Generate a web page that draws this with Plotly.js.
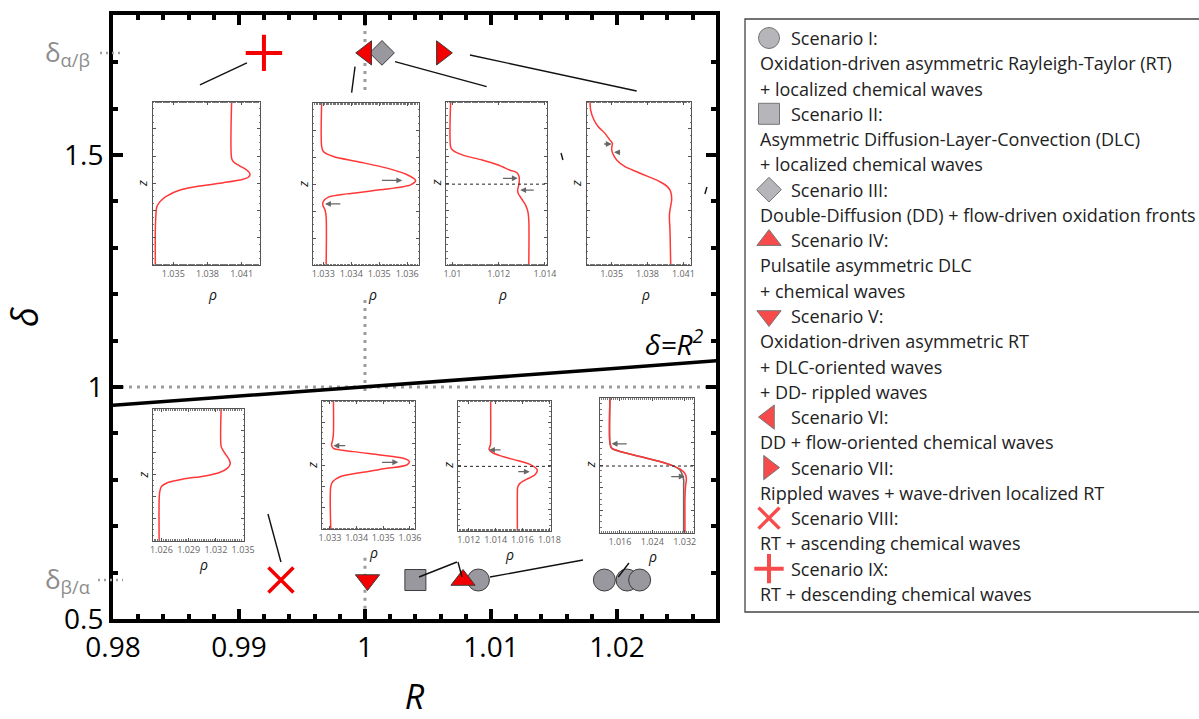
<!DOCTYPE html>
<html><head><meta charset="utf-8">
<script src="https://cdn.plot.ly/plotly-3.0.1.min.js"></script>
<style>html,body{margin:0;padding:0;background:#fff;}#chart{width:1199px;height:719px;}</style>
</head><body><div id="chart"></div>
<script>
// ================= DATA =================
const xTickVals = [0.98, 0.99, 1, 1.01, 1.02];
const xTickText = ['0.98', '0.99', '1', '1.01', '1.02'];
const yTickVals = [0.5, 1, 1.5];
const yTickText = ['0.5', '1', '1.5'];

const deltaAlphaBeta = 1.72;   // δα/β
const deltaBetaAlpha = 0.584;  // δβ/α

// scenario markers (R, δ)
const scenI_R = [1.0090, 1.0190, 1.0208, 1.0218];
const scenI_D = [0.584, 0.584, 0.584, 0.584];
const scenII_R = [1.0040];   const scenII_D = [0.584];
const scenIII_R = [1.00135]; const scenIII_D = [1.72];
const scenIV_R = [1.00778];  const scenIV_D = [0.584];
const scenV_R = [1.0002];    const scenV_D = [0.584];
const scenVI_R = [1.0001];   const scenVI_D = [1.72];
const scenVII_R = [1.0061];  const scenVII_D = [1.72];
const scenVIII_R = [0.99333]; const scenVIII_D = [0.584];
const scenIX_R = [0.99198];  const scenIX_D = [1.72];

// delta = R^2 curve
const curveR = [0.98, 0.99, 1.0, 1.01, 1.02, 1.03];
const curveD = [0.9604, 0.9801, 1.0, 1.0201, 1.0404, 1.0609];

// legend texts
const scenarioTitles = ['Scenario I:', 'Scenario II:', 'Scenario III:', 'Scenario IV:', 'Scenario V:',
  'Scenario VI:', 'Scenario VII:', 'Scenario VIII:', 'Scenario IX:'];
const scenarioDesc = [
  ['Oxidation-driven asymmetric Rayleigh-Taylor (RT)', '+ localized chemical waves'],
  ['Asymmetric Diffusion-Layer-Convection (DLC)', '+ localized chemical waves'],
  ['Double-Diffusion (DD) + flow-driven oxidation fronts'],
  ['Pulsatile asymmetric DLC', '+ chemical waves'],
  ['Oxidation-driven asymmetric RT', '+ DLC-oriented waves', '+ DD- rippled waves'],
  ['DD + flow-oriented chemical waves'],
  ['Rippled waves + wave-driven localized RT'],
  ['RT + ascending chemical waves'],
  ['RT + descending chemical waves']
];

// inset density profiles (rho, normalized z)
const in1Rho = [1.04012,1.04012,1.04027,1.04085,1.04144,1.04173,1.04159,1.04085,1.03939,1.03734,1.03559,1.03441,1.03383,1.03354,1.03348,1.03342,1.03342];
const in1Z   = [1,0.653,0.633,0.606,0.582,0.557,0.537,0.520,0.504,0.484,0.459,0.422,0.388,0.353,0.316,0.214,0];
const in1Ticks = [1.035, 1.038, 1.041];

const in2Rho = [1.03294,1.03294,1.033,1.03336,1.0342,1.03528,1.036,1.0363,1.03612,1.03504,1.03384,1.03318,1.033,1.03298,1.03306,1.0331,1.0331];
const in2Z   = [1,0.732,0.701,0.670,0.639,0.598,0.557,0.522,0.495,0.464,0.439,0.419,0.392,0.371,0.340,0.299,0];
const in2Ticks = [1.033, 1.034, 1.035, 1.036];

const in3Rho = [1.00992,1.00992,1.01,1.01045,1.01128,1.01198,1.01247,1.01279,1.01288,1.01288,1.01282,1.01284,1.01302,1.01316,1.01326,1.0133,1.0133];
const in3Z   = [1,0.724,0.704,0.673,0.643,0.612,0.582,0.565,0.541,0.5,0.459,0.439,0.398,0.367,0.327,0.276,0];
const in3Ticks = [1.01, 1.012, 1.014];

const in4Rho = [1.03319,1.03324,1.03352,1.03388,1.03444,1.03486,1.03506,1.035,1.03508,1.03542,1.03612,1.03709,1.03807,1.03905,1.03966,1.03994,1.04002,1.03988,1.03983,1.03988,1.03994];
const in4Z   = [1,0.949,0.888,0.847,0.806,0.765,0.745,0.714,0.684,0.643,0.602,0.571,0.541,0.510,0.480,0.449,0.398,0.337,0.296,0.214,0];
const in4Ticks = [1.035, 1.038, 1.041];

const in5Rho = [1.03258,1.03258,1.03276,1.03311,1.03347,1.03358,1.03329,1.0324,1.0308,1.02831,1.02671,1.026,1.02582,1.02575,1.02575];
const in5Z   = [1,0.716,0.690,0.652,0.614,0.584,0.551,0.518,0.492,0.467,0.442,0.411,0.373,0.310,0];
const in5Ticks = [1.026, 1.029, 1.032, 1.035];

const in6Rho = [1.03313,1.03313,1.0331,1.03306,1.03313,1.03388,1.03488,1.03575,1.03598,1.03588,1.03513,1.03413,1.03338,1.0331,1.03303,1.03303];
const in6Z   = [1,0.746,0.694,0.655,0.630,0.604,0.578,0.552,0.526,0.5,0.474,0.440,0.409,0.370,0.332,0];
const in6Ticks = [1.033, 1.034, 1.035, 1.036];

const in7Rho = [1.01363,1.01363,1.01361,1.01351,1.01375,1.0146,1.01569,1.01666,1.0171,1.01691,1.0163,1.01581,1.01564,1.01562,1.01562];
const in7Z   = [1,0.697,0.659,0.626,0.6,0.569,0.538,0.505,0.467,0.428,0.395,0.364,0.333,0.287,0];
const in7Ticks = [1.012, 1.014, 1.016, 1.018];

const in8Rho = [1.01354,1.01354,1.01395,1.016,1.02092,1.02585,1.02913,1.03118,1.03225,1.03241,1.03225,1.03208,1.03208];
const in8RhoB = [1.01354,1.01354,1.01395,1.016,1.02092,1.02585,1.02913,1.03077,1.03143,1.03175,1.03175,1.03175,1.03175];
const in8Z   = [1,0.665,0.628,0.603,0.566,0.529,0.496,0.467,0.429,0.392,0.355,0.268,0];
const in8Ticks = [1.016, 1.024, 1.032];

// arrows inside insets: [tailRho, tailZ, headRho, headZ]
const in2Arrows = [[1.03504,0.522,1.03582,0.522],[1.03366,0.377,1.03306,0.377]];
const in3Arrows = [[1.01212,0.531,1.01282,0.531],[1.01358,0.459,1.01293,0.459]];
const in4Arrows = [[1.03425,0.741,1.035,0.741],[1.03584,0.690,1.0352,0.690]];
const in6Arrows = [[1.03363,0.650,1.03313,0.650],[1.0349,0.521,1.03556,0.521]];
const in7Arrows = [[1.01448,0.621,1.01351,0.621],[1.01557,0.454,1.01654,0.454]];
const in8Arrows = [[1.01805,0.660,1.01395,0.660],[1.02831,0.417,1.032,0.417]];

// ================= LAYOUT CONSTANTS =================
const W = 1199, H = 719;
const pxX = v => v / W;
const pxY = v => (H - v) / H;
const main = {l: 113, t: 15, r: 716, b: 619};
const xRange = [0.98, 1.02786];
const yRange = [0.5, 1.8017];

const GRAY = 'rgb(152,152,158)', EDGE = 'rgb(60,60,60)', RED = 'rgb(245,0,0)';

const scenStyles = [
  {symbol: 'circle', size: 22, color: GRAY, lc: EDGE, lw: 1},
  {symbol: 'square', size: 21, color: GRAY, lc: EDGE, lw: 1},
  {symbol: 'diamond', size: 19, color: GRAY, lc: EDGE, lw: 1},
  {symbol: 'triangle-up', size: 21, color: RED, lc: EDGE, lw: 1},
  {symbol: 'triangle-down', size: 21, color: RED, lc: EDGE, lw: 1},
  {symbol: 'triangle-left', size: 21, color: RED, lc: EDGE, lw: 1},
  {symbol: 'triangle-right', size: 21, color: RED, lc: EDGE, lw: 1},
  {symbol: 'x-thin', size: 25, color: RED, lc: RED, lw: 3.5},
  {symbol: 'cross-thin', size: 26, color: RED, lc: RED, lw: 4}
];
const scenData = [[scenI_R, scenI_D], [scenII_R, scenII_D], [scenIII_R, scenIII_D], [scenIV_R, scenIV_D],
  [scenV_R, scenV_D], [scenVI_R, scenVI_D], [scenVII_R, scenVII_D], [scenVIII_R, scenVIII_D], [scenIX_R, scenIX_D]];

// inset boxes in pixels [left, top, right, bottom], x ranges, offset of the ρ label below the box
const insets = [
  {box: [152.7, 101.7, 260, 265], range: [1.03319, 1.04261], rho: in1Rho, z: in1Z, ticks: in1Ticks, arrows: [], dotted: false, rhoShift: -29},
  {box: [312.7, 103, 419, 265], range: [1.03262, 1.03642], rho: in2Rho, z: in2Z, ticks: in2Ticks, arrows: in2Arrows, dotted: false, rhoShift: -29},
  {box: [446, 101.7, 547.3, 265], range: [1.00972, 1.0141], rho: in3Rho, z: in3Z, ticks: in3Ticks, arrows: in3Arrows, dotted: true, rhoShift: -29},
  {box: [586.7, 101.7, 691, 265], range: [1.03291, 1.04164], rho: in4Rho, z: in4Z, ticks: in4Ticks, arrows: in4Arrows, dotted: false, rhoShift: -29},
  {box: [152.7, 409, 244, 540.7], range: [1.02504, 1.0351], rho: in5Rho, z: in5Z, ticks: in5Ticks, arrows: [], dotted: false, rhoShift: -24},
  {box: [321.7, 400.7, 415, 529.3], range: [1.03269, 1.03619], rho: in6Rho, z: in6Z, ticks: in6Ticks, arrows: in6Arrows, dotted: false, rhoShift: -23},
  {box: [458, 400.7, 550.7, 530.7], range: [1.0112, 1.0181], rho: in7Rho, z: in7Z, ticks: in7Ticks, arrows: in7Arrows, dotted: true, rhoShift: -24},
  {box: [600, 398, 694, 532.7], range: [1.01108, 1.0343], rho: in8Rho, z: in8Z, ticks: in8Ticks, arrows: in8Arrows, dotted: true, extra: in8RhoB, rhoShift: -24}
];

// connector lines (R, δ) pairs, in main-axis units
const connectors = [
  [0.99063, 1.6983, 0.9869, 1.6509],
  [0.99921, 1.6903, 0.99894, 1.6343],
  [1.00238, 1.7011, 1.00966, 1.6472],
  [1.00833, 1.7155, 1.02156, 1.6379],
  [0.9923, 0.7263, 0.99333, 0.6228],
  [1.00429, 0.5905, 1.0073, 0.6228],
  [1.0077, 0.5905, 1.00738, 0.6228],
  [1.00992, 0.5905, 1.0173, 0.6272],
  [1.0201, 0.5905, 1.02095, 0.6207],
  [1.01556, 1.5043, 1.01571, 1.4892],
  [1.02698, 1.4159, 1.02714, 1.431]
];
// visible segments of the R = 1 reference line (hidden behind insets)
const vSegR = [1, 1, null, 1, 1, null, 1, 1];
const vSegD = [1.8017, 1.6358, null, 1.1875, 0.9828, null, 0.632, 0.5];

// ================= BUILD =================
const traces = [];
const FONT = 'Open Sans, Noto Sans, sans-serif';

traces.push({x: [xRange[0], xRange[1]], y: [1, 1], mode: 'lines', xaxis: 'x', yaxis: 'y',
  line: {color: '#9b9b9b', width: 3, dash: '3px,5px'}, showlegend: false, hoverinfo: 'skip'});
traces.push({x: vSegR, y: vSegD, mode: 'lines', xaxis: 'x', yaxis: 'y', connectgaps: false,
  line: {color: '#9b9b9b', width: 3, dash: '3px,5px'}, showlegend: false, hoverinfo: 'skip'});
traces.push({x: curveR, y: curveD, mode: 'lines', xaxis: 'x', yaxis: 'y', line: {color: '#000', width: 3.5},
  showlegend: false, hoverinfo: 'skip'});

scenData.forEach((d, i) => {
  const s = scenStyles[i];
  traces.push({x: d[0], y: d[1], mode: 'markers', xaxis: 'x', yaxis: 'y', name: scenarioTitles[i], showlegend: false,
    marker: {symbol: s.symbol, size: s.size, color: s.color, line: {color: s.lc, width: s.lw}}});
});

const layout = {
  width: W, height: H, margin: {l: 0, r: 0, t: 0, b: 0}, paper_bgcolor: '#fff', plot_bgcolor: '#fff',
  showlegend: false, font: {family: FONT, color: '#000'},
  xaxis: {domain: [pxX(main.l), pxX(main.r)], range: xRange, showgrid: false, zeroline: false,
    showline: true, linecolor: '#000', linewidth: 4, mirror: 'allticks', ticks: 'inside', ticklen: 10, tickwidth: 4,
    tickcolor: '#000', tickmode: 'array', tickvals: xTickVals, ticktext: xTickText,
    tickfont: {size: 28, family: FONT, color: '#000'},
    minor: {tickmode: 'linear', tick0: 0.98, dtick: 0.002, ticks: 'inside', ticklen: 5, tickwidth: 4, tickcolor: '#000', showgrid: false},
    title: {text: '<i>R</i>', font: {size: 34, family: FONT}, standoff: 26}},
  yaxis: {domain: [pxY(main.b), pxY(main.t)], range: yRange, showgrid: false, zeroline: false,
    showline: true, linecolor: '#000', linewidth: 4, mirror: 'allticks', ticks: 'inside', ticklen: 10, tickwidth: 4,
    tickcolor: '#000', tickmode: 'array', tickvals: yTickVals, ticktext: yTickText,
    tickfont: {size: 28, family: FONT, color: '#000'},
    minor: {tickmode: 'linear', tick0: 0.5, dtick: 0.1, ticks: 'inside', ticklen: 5, tickwidth: 4, tickcolor: '#000', showgrid: false},
    title: {text: '<i>δ</i>', font: {size: 36, family: FONT}, standoff: 30}},
  annotations: [], shapes: []
};

// insets
insets.forEach((ins, k) => {
  const n = k + 2;
  const xa = 'xaxis' + n, ya = 'yaxis' + n;
  const xr = 'x' + n, yr = 'y' + n;
  layout[xa] = {domain: [pxX(ins.box[0]), pxX(ins.box[2])], range: ins.range, anchor: yr,
    showgrid: false, zeroline: false, showline: true, linecolor: '#555', linewidth: 1, mirror: 'allticks',
    ticks: 'inside', ticklen: 3, tickwidth: 1, tickcolor: '#555', tickmode: 'array', tickvals: ins.ticks,
    ticktext: ins.ticks.map(v => String(v)), tickfont: {size: 9, color: '#666', family: FONT},
    minor: {ticks: 'inside', ticklen: 1.5, tickwidth: 1, tickcolor: '#777', nticks: 20}};
  layout[ya] = {domain: [pxY(ins.box[3]), pxY(ins.box[1])], range: [0, 1], anchor: xr,
    showgrid: false, zeroline: false, showline: true, linecolor: '#555', linewidth: 1, mirror: 'allticks',
    ticks: 'inside', ticklen: 3, tickwidth: 1, tickcolor: '#555', tickmode: 'linear', tick0: 0, dtick: 1 / 6,
    showticklabels: false, minor: {ticks: 'inside', ticklen: 1.5, tickwidth: 1, tickcolor: '#777', dtick: 1 / 24}};
  if (ins.extra) {
    traces.push({x: ins.extra, y: ins.z, mode: 'lines', xaxis: xr, yaxis: yr, showlegend: false,
      line: {color: 'rgb(115,100,100)', width: 1.6, shape: 'spline', smoothing: 0.8}, hoverinfo: 'skip'});
  }
  traces.push({x: ins.rho, y: ins.z, mode: 'lines', xaxis: xr, yaxis: yr, showlegend: false,
    line: {color: 'rgb(255,55,55)', width: 1.5, shape: 'spline', smoothing: 0.8}, hoverinfo: 'skip'});
  if (ins.dotted) {
    layout.shapes.push({type: 'line', xref: xr + ' domain', yref: yr, x0: 0, x1: 1, y0: 0.495, y1: 0.495,
      line: {color: '#222', width: 1, dash: 'dot'}});
  }
  ins.arrows.forEach(a => {
    layout.annotations.push({xref: xr, yref: yr, axref: xr, ayref: yr, x: a[2], y: a[3], ax: a[0], ay: a[1],
      text: '', showarrow: true, arrowhead: 2, arrowsize: 0.9, arrowwidth: 1.3, arrowcolor: '#666'});
  });
  layout.annotations.push({xref: xr + ' domain', yref: yr + ' domain', x: 0.56, y: 0, yshift: ins.rhoShift,
    xanchor: 'center', yanchor: 'middle', showarrow: false, text: '<i>ρ</i>', font: {size: 14, color: '#111', family: FONT}});
  layout.annotations.push({xref: xr + ' domain', yref: yr + ' domain', x: 0, y: 0.5, xshift: -10,
    xanchor: 'center', yanchor: 'middle', showarrow: false, textangle: -90, text: '<i>z</i>', font: {size: 13, color: '#111', family: FONT}});
});

// connectors
connectors.forEach(c => layout.shapes.push({type: 'line', xref: 'x', yref: 'y', x0: c[0], y0: c[1], x1: c[2], y1: c[3],
  line: {color: '#111', width: 1.4}}));

// δ labels with dotted stubs
layout.shapes.push({type: 'line', xref: 'paper', yref: 'y', x0: pxX(100), x1: pxX(123), y0: deltaAlphaBeta, y1: deltaAlphaBeta,
  line: {color: '#a0a0a0', width: 2.5, dash: '2px,4px'}});
layout.shapes.push({type: 'line', xref: 'paper', yref: 'y', x0: pxX(98), x1: pxX(123), y0: deltaBetaAlpha, y1: deltaBetaAlpha,
  line: {color: '#a0a0a0', width: 2.5, dash: '2px,4px'}});
layout.annotations.push({xref: 'paper', yref: 'y', x: pxX(92), y: deltaAlphaBeta, xanchor: 'right', yanchor: 'middle',
  showarrow: false, text: 'δ<sub>α/β</sub>', font: {size: 26, color: '#8c8c8c', family: FONT}});
layout.annotations.push({xref: 'paper', yref: 'y', x: pxX(92), y: deltaBetaAlpha, xanchor: 'right', yanchor: 'middle',
  showarrow: false, text: 'δ<sub>β/α</sub>', font: {size: 26, color: '#8c8c8c', family: FONT}});
// curve label
layout.annotations.push({xref: 'x', yref: 'y', x: 1.0246, y: 1.095, xanchor: 'center', yanchor: 'middle', showarrow: false,
  text: '<i>δ=R<sup>2</sup></i>', font: {size: 28, color: '#000', family: FONT}});

// ---- custom legend panel ----
layout.xaxis10 = {domain: [pxX(745), 1], range: [0, 454], visible: false, fixedrange: true, anchor: 'y10'};
layout.yaxis10 = {domain: [pxY(612), pxY(19)], range: [22.715, -0.752], visible: false, fixedrange: true, anchor: 'x10'};
layout.shapes.push({type: 'rect', xref: 'paper', yref: 'paper', x0: pxX(745), x1: 1.05, y0: pxY(612), y1: pxY(19),
  line: {color: '#444', width: 1.3}, fillcolor: 'rgba(0,0,0,0)'});
let row = 0;
const legRows = [];
scenarioTitles.forEach((t, i) => {
  legRows.push(row);
  layout.annotations.push({xref: 'x10', yref: 'y10', x: 44, y: row, xanchor: 'left', yanchor: 'middle', showarrow: false,
    text: t, font: {size: 18, color: '#222', family: FONT}});
  row++;
  scenarioDesc[i].forEach(line => {
    layout.annotations.push({xref: 'x10', yref: 'y10', x: 13, y: row, xanchor: 'left', yanchor: 'middle', showarrow: false,
      text: line, font: {size: 18, color: '#222', family: FONT}});
    row++;
  });
});
traces.push({x: legRows.map(() => 24), y: legRows, mode: 'markers', xaxis: 'x10', yaxis: 'y10', showlegend: false,
  hoverinfo: 'skip', cliponaxis: false,
  marker: {symbol: scenStyles.map(s => s.symbol), size: scenStyles.map(s => Math.min(s.size, 21)),
    color: scenStyles.map(s => s.color), line: {color: scenStyles.map(s => s.lc), width: scenStyles.map(s => s.lw)}}});

Plotly.newPlot('chart', traces, layout, {displayModeBar: false, staticPlot: true});
</script></body></html>
